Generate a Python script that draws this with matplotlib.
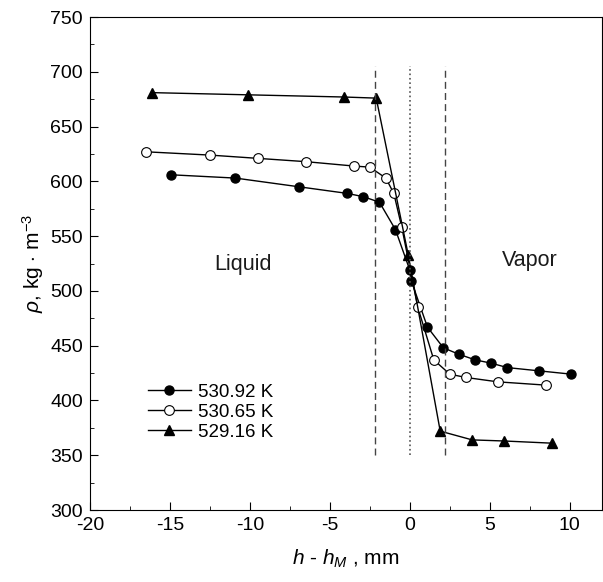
import numpy as np
import matplotlib
matplotlib.use("Agg")
import matplotlib.pyplot as plt
from matplotlib.ticker import MultipleLocator

plt.rcParams['font.family'] = ['Liberation Sans', 'DejaVu Sans']
plt.rcParams['mathtext.fontset'] = 'custom'
plt.rcParams['mathtext.rm'] = 'Liberation Sans'
plt.rcParams['mathtext.it'] = 'Liberation Sans:italic'
plt.rcParams['axes.unicode_minus'] = False

# data
x_92 = [-14.9, -10.9, -6.9, -3.9, -2.9, -1.9, -0.9, 0.0, 0.1, 1.1, 2.1, 3.1, 4.1, 5.1, 6.1, 8.1, 10.1]
y_92 = [606, 603, 595, 589, 586, 581, 556, 519, 509, 467, 448, 442, 437, 434, 430, 427, 424]

x_65 = [-16.5, -12.5, -9.5, -6.5, -3.5, -2.5, -1.5, -1.0, -0.5, 0.5, 1.5, 2.5, 3.5, 5.5, 8.5]
y_65 = [627, 624, 621, 618, 614, 613, 603, 589, 558, 485, 437, 424, 421, 417, 414]

x_16 = [-16.1, -10.1, -4.1, -2.1, -0.1, 1.9, 3.9, 5.9, 8.9]
y_16 = [681, 679, 677, 676, 533, 372, 364, 363, 361]

labels = ['530.92 K', '530.65 K', '529.16 K']

fig = plt.figure(figsize=(6.03, 5.82), dpi=100)
ax = fig.add_axes([0.149, 0.1237, 0.849, 0.847])

ax.plot(x_92, y_92, '-o', color='black', lw=1, ms=6.5, mfc='black', label=labels[0])
ax.plot(x_65, y_65, '-o', color='black', lw=1, ms=7, mfc='white', mew=0.8, label=labels[1])
ax.plot(x_16, y_16, '-^', color='black', lw=1, ms=7.5, mfc='black', label=labels[2])

# phase boundaries
ax.plot([-2.2, -2.2], [350, 705], '--', color='#444444', lw=1, dashes=(5, 3))
ax.plot([2.2, 2.2], [350, 705], '--', color='#444444', lw=1, dashes=(5, 3))
ax.plot([0, 0], [350, 705], ':', color='#555555', lw=1.2)

ax.text(-10.4, 524, 'Liquid', fontsize=15.5, ha='center', va='center', color='#1a1a1a')
ax.text(7.5, 528, 'Vapor', fontsize=15.5, ha='center', va='center', color='#1a1a1a')

ax.set_xlim(-20, 12)
ax.set_ylim(300, 750)
ax.xaxis.set_major_locator(MultipleLocator(5))
ax.xaxis.set_minor_locator(MultipleLocator(2.5))
ax.yaxis.set_major_locator(MultipleLocator(50))
ax.yaxis.set_minor_locator(MultipleLocator(25))
ax.tick_params(which='both', direction='in', labelsize=14, pad=5)
ax.tick_params(which='major', length=6)
ax.tick_params(which='minor', length=3)

ax.set_xlabel(r'$h$ - $h_M$ , mm', fontsize=15, labelpad=10)
ax.set_ylabel(r'$\rho$, kg $\cdot$ m$^{-3}$', fontsize=15, labelpad=3)

ax.legend(loc='upper left', bbox_to_anchor=(0.08, 0.29), frameon=False, fontsize=13.5,
          handlelength=2.3, labelspacing=0.15, handletextpad=0.4)

fig.savefig('out.png', dpi=100)
